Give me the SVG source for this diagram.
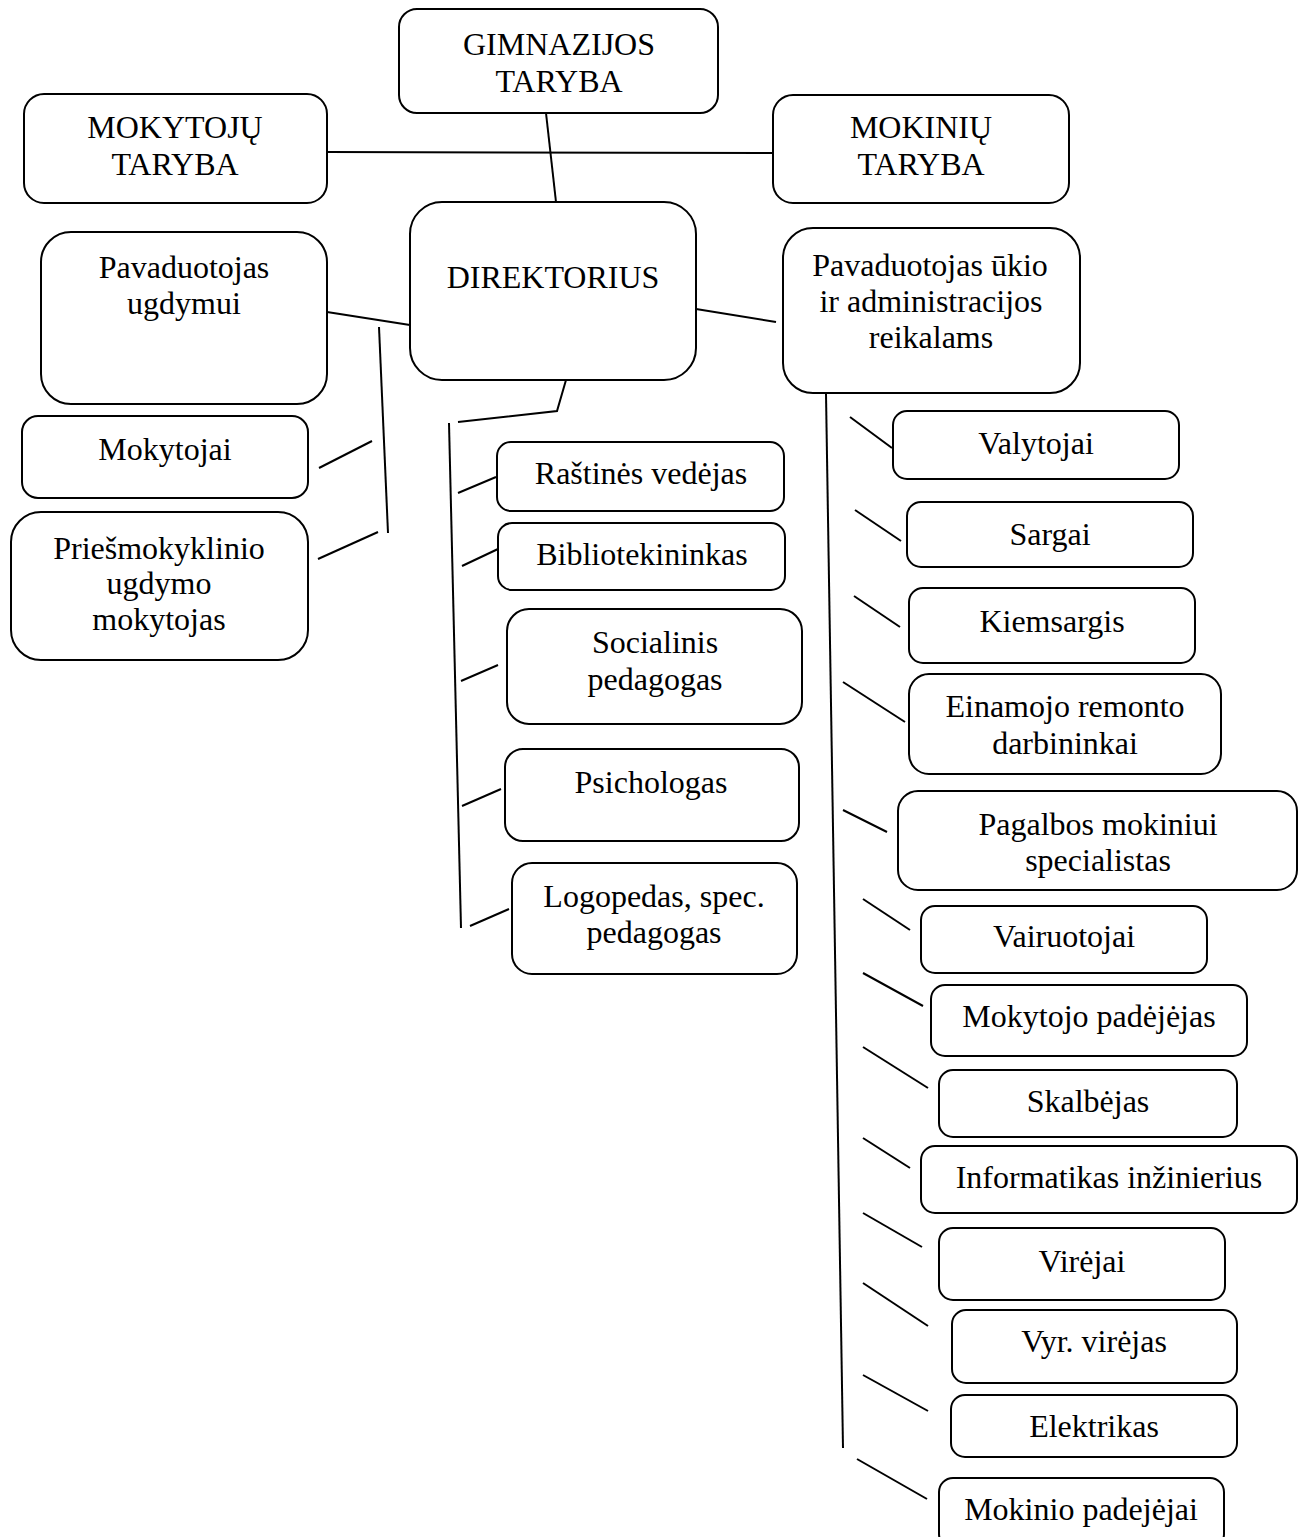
<svg xmlns="http://www.w3.org/2000/svg" width="1302" height="1537" viewBox="0 0 1302 1537">
<style>
rect{fill:#fff;stroke:#000;stroke-width:2}
line,polyline{stroke:#000;stroke-width:2;fill:none}
text{font-family:"Liberation Serif","Times New Roman",serif;font-size:32px;fill:#000;text-anchor:middle}
</style>
<rect x="0" y="0" width="1302" height="1537" style="stroke:none"/>
<g id="connectors">
<line x1="327" y1="152" x2="773" y2="153"/>
<line x1="546" y1="113" x2="556" y2="202"/>
<line x1="327" y1="312" x2="410" y2="325"/>
<line x1="379" y1="327" x2="388" y2="533"/>
<line x1="319" y1="468" x2="372" y2="441"/>
<line x1="318" y1="559" x2="378" y2="532"/>
<polyline points="566,380 557,411 458,422"/>
<line x1="449" y1="423" x2="461" y2="928"/>
<line x1="458" y1="493" x2="496" y2="477"/>
<line x1="462" y1="566" x2="498" y2="549"/>
<line x1="461" y1="681" x2="498" y2="665"/>
<line x1="462" y1="806" x2="501" y2="789"/>
<line x1="470" y1="926" x2="509" y2="909"/>
<line x1="696" y1="309" x2="776" y2="322"/>
<line x1="826" y1="394" x2="843" y2="1448"/>
<line x1="850" y1="417" x2="892" y2="448"/>
<line x1="855" y1="510" x2="901" y2="541"/>
<line x1="854" y1="596" x2="900" y2="627"/>
<line x1="843" y1="682" x2="905" y2="722"/>
<line x1="843" y1="810" x2="887" y2="832"/>
<line x1="863" y1="899" x2="910" y2="930"/>
<line x1="863" y1="973" x2="923" y2="1006"/>
<line x1="863" y1="1047" x2="928" y2="1088"/>
<line x1="863" y1="1138" x2="910" y2="1168"/>
<line x1="863" y1="1213" x2="922" y2="1247"/>
<line x1="863" y1="1283" x2="928" y2="1326"/>
<line x1="863" y1="1375" x2="928" y2="1411"/>
<line x1="857" y1="1459" x2="927" y2="1499"/>
</g>
<g id="gimnazijos-taryba"><rect x="399" y="9" width="319" height="104" rx="18"/><text x="559" y="55">GIMNAZIJOS</text><text x="559" y="92">TARYBA</text></g>
<g id="mokytoju-taryba"><rect x="24" y="94" width="303" height="109" rx="20"/><text x="175" y="138">MOKYTOJŲ</text><text x="175" y="175">TARYBA</text></g>
<g id="mokiniu-taryba"><rect x="773" y="95" width="296" height="108" rx="20"/><text x="921" y="138">MOKINIŲ</text><text x="921" y="175">TARYBA</text></g>
<g id="direktorius"><rect x="410" y="202" width="286" height="178" rx="32"/><text x="553" y="288">DIREKTORIUS</text></g>
<g id="pav-ugdymui"><rect x="41" y="232" width="286" height="172" rx="30"/><text x="184" y="278">Pavaduotojas</text><text x="184" y="314">ugdymui</text></g>
<g id="pav-ukio"><rect x="783" y="228" width="297" height="165" rx="30"/><text x="930" y="276">Pavaduotojas ūkio</text><text x="931" y="312">ir administracijos</text><text x="931" y="348">reikalams</text></g>
<g id="mokytojai"><rect x="22" y="416" width="286" height="82" rx="16"/><text x="165" y="460">Mokytojai</text></g>
<g id="priesmokyklinio"><rect x="11" y="512" width="297" height="148" rx="30"/><text x="159" y="559">Priešmokyklinio</text><text x="159" y="594">ugdymo</text><text x="159" y="630">mokytojas</text></g>
<g id="rastines"><rect x="497" y="442" width="287" height="69" rx="14"/><text x="641" y="484">Raštinės vedėjas</text></g>
<g id="bibliotekininkas"><rect x="498" y="523" width="287" height="67" rx="14"/><text x="642" y="565">Bibliotekininkas</text></g>
<g id="socialinis"><rect x="507" y="609" width="295" height="115" rx="22"/><text x="655" y="653">Socialinis</text><text x="655" y="690">pedagogas</text></g>
<g id="psichologas"><rect x="505" y="749" width="294" height="92" rx="18"/><text x="651" y="793">Psichologas</text></g>
<g id="logopedas"><rect x="512" y="863" width="285" height="111" rx="20"/><text x="654" y="907">Logopedas, spec.</text><text x="654" y="943">pedagogas</text></g>
<g id="valytojai"><rect x="893" y="411" width="286" height="68" rx="14"/><text x="1036" y="454">Valytojai</text></g>
<g id="sargai"><rect x="907" y="502" width="286" height="65" rx="14"/><text x="1050" y="545">Sargai</text></g>
<g id="kiemsargis"><rect x="909" y="588" width="286" height="75" rx="14"/><text x="1052" y="632">Kiemsargis</text></g>
<g id="einamojo"><rect x="909" y="674" width="312" height="100" rx="20"/><text x="1065" y="717">Einamojo remonto</text><text x="1065" y="754">darbininkai</text></g>
<g id="pagalbos"><rect x="898" y="791" width="399" height="99" rx="20"/><text x="1098" y="835">Pagalbos mokiniui</text><text x="1098" y="871">specialistas</text></g>
<g id="vairuotojai"><rect x="921" y="906" width="286" height="67" rx="14"/><text x="1064" y="947">Vairuotojai</text></g>
<g id="mokytojo-padejejas"><rect x="931" y="985" width="316" height="71" rx="14"/><text x="1089" y="1027">Mokytojo padėjėjas</text></g>
<g id="skalbejas"><rect x="939" y="1070" width="298" height="67" rx="14"/><text x="1088" y="1112">Skalbėjas</text></g>
<g id="informatikas"><rect x="921" y="1146" width="376" height="67" rx="14"/><text x="1109" y="1188">Informatikas inžinierius</text></g>
<g id="virejai"><rect x="939" y="1228" width="286" height="72" rx="14"/><text x="1082" y="1272">Virėjai</text></g>
<g id="vyr-virejas"><rect x="952" y="1310" width="285" height="73" rx="14"/><text x="1094" y="1352">Vyr. virėjas</text></g>
<g id="elektrikas"><rect x="951" y="1395" width="286" height="62" rx="14"/><text x="1094" y="1437">Elektrikas</text></g>
<g id="mokinio-padejejai"><rect x="939" y="1478" width="285" height="70" rx="14"/><text x="1081" y="1520">Mokinio padejėjai</text></g>
</svg>
